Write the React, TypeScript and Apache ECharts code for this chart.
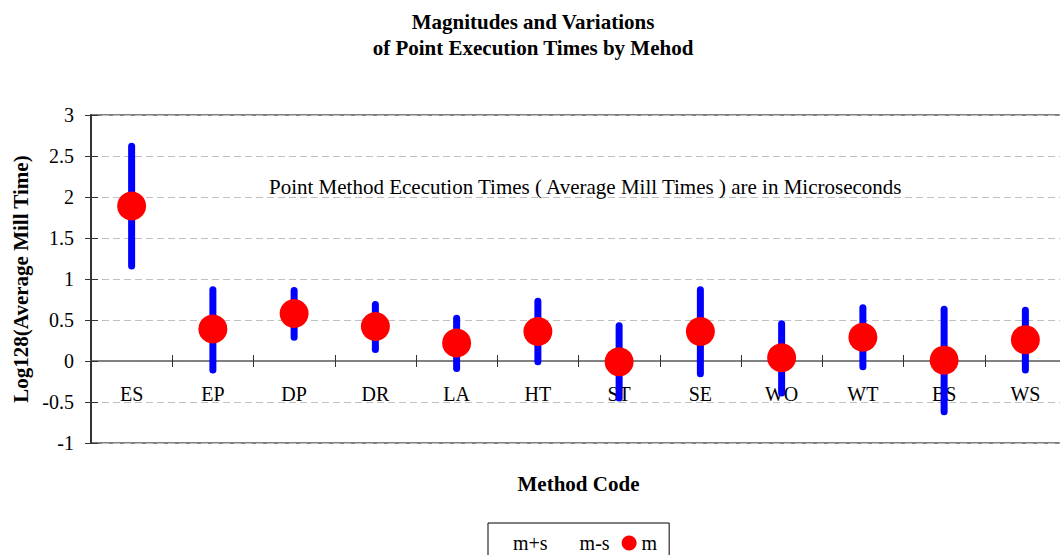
import { useEffect, useRef } from 'react';
import * as echarts from 'echarts';

// Method codes along the category axis
const categories = ['ES', 'EP', 'DP', 'DR', 'LA', 'HT', 'ST', 'SE', 'WO', 'WT', 'BS', 'WS'];

// log128 of average mill time (m) and one standard deviation either side
const meanValues = [1.89, 0.39, 0.58, 0.42, 0.22, 0.36, -0.01, 0.36, 0.04, 0.29, 0.01, 0.26];
const plusSigma = [2.62, 0.87, 0.86, 0.69, 0.52, 0.73, 0.43, 0.87, 0.455, 0.65, 0.63, 0.62];
const minusSigma = [1.16, -0.11, 0.29, 0.14, -0.09, -0.01, -0.45, -0.155, -0.39, -0.07, -0.62, -0.11];

// value axis range and step
const yMin = -1;
const yMax = 3;
const yStep = 0.5;

const SERIF = '"Liberation Serif", "Times New Roman", serif';

export default function App() {
  const ref = useRef<HTMLDivElement>(null);

  useEffect(() => {
    if (!ref.current) return;
    const chart = echarts.init(ref.current, undefined, { renderer: 'svg' });

    const gridLeft = 91;
    const gridWidth = 975;

    const option: any = {
      animation: false,
      backgroundColor: '#ffffff',
      title: {
        text: 'Magnitudes and Variations\nof Point Execution Times by Mehod',
        left: 528,
        top: 4,
        textAlign: 'center',
        textStyle: {
          fontFamily: SERIF,
          fontWeight: 'bold',
          fontSize: 21,
          lineHeight: 26,
          color: '#000',
        },
      },
      legend: {
        left: 488,
        top: 523,
        padding: [10, 12, 10, 5],
        itemGap: 12,
        itemWidth: 15,
        itemHeight: 15,
        borderColor: '#000',
        borderWidth: 1,
        selectedMode: false,
        textStyle: { fontFamily: SERIF, fontSize: 20, color: '#000' },
        data: [
          { name: 'm+s', icon: 'rect', itemStyle: { color: 'rgba(0,0,0,0)', opacity: 0 } },
          { name: 'm-s', icon: 'rect', itemStyle: { color: 'rgba(0,0,0,0)', opacity: 0 } },
          { name: 'm', icon: 'circle', itemStyle: { color: '#ff0000' } },
        ],
      },
      grid: {
        left: gridLeft,
        top: 115,
        width: gridWidth,
        height: 328,
        outerBoundsMode: 'none',
        containLabel: false,
        show: true,
        borderColor: '#808080',
        borderWidth: 2,
        backgroundColor: 'transparent',
      },
      graphic: [
        {
          type: 'text',
          x: 269,
          y: 187,
          style: {
            text: 'Point Method Ececution Times ( Average Mill Times ) are in Microseconds',
            font: `21px ${SERIF}`,
            fill: '#000',
            textVerticalAlign: 'middle',
          },
          z: 10,
        },
      ],
      xAxis: [
        {
          type: 'category',
          data: categories,
          position: 'bottom',
          boundaryGap: true,
          name: 'Method Code',
          nameLocation: 'middle',
          nameGap: 30,
          nameTextStyle: { fontFamily: SERIF, fontWeight: 'bold', fontSize: 21, color: '#000' },
          axisLine: { onZero: true, lineStyle: { color: '#7a7a7a', width: 1.5 } },
          axisTick: { show: true, inside: false, length: 6, lineStyle: { color: '#333', width: 1 } },
          // labels sit just under the zero line rather than at the plot's bottom edge
          axisLabel: { fontFamily: SERIF, fontSize: 20, color: '#000', margin: -59 },
          splitLine: { show: false },
        },
        {
          // mirrored ticks so the category ticks cross the zero line
          type: 'category',
          data: categories,
          position: 'top',
          boundaryGap: true,
          axisLine: { onZero: true, lineStyle: { color: '#7a7a7a', width: 1.5 } },
          axisTick: { show: true, inside: false, length: 6, lineStyle: { color: '#333', width: 1 } },
          axisLabel: { show: false },
          splitLine: { show: false },
        },
      ],
      yAxis: [
        {
          type: 'value',
          min: yMin,
          max: yMax,
          interval: yStep,
          position: 'left',
          name: 'Log128(Average Mill Time)',
          nameLocation: 'middle',
          nameGap: 59,
          nameTextStyle: { fontFamily: SERIF, fontWeight: 'bold', fontSize: 21, color: '#000' },
          axisLine: { show: true, lineStyle: { color: '#333', width: 2 } },
          axisTick: { show: true, inside: false, length: 6, lineStyle: { color: '#333', width: 1 } },
          axisLabel: { fontFamily: SERIF, fontSize: 20, color: '#000', margin: 17 },
          splitLine: { show: true, lineStyle: { color: '#c0c0c0', width: 1, type: [7, 4] } },
        },
        {
          // inward half of the value-axis ticks, placed on the left edge
          type: 'value',
          min: yMin,
          max: yMax,
          interval: yStep,
          position: 'right',
          offset: -gridWidth,
          axisLine: { show: false },
          axisTick: { show: true, inside: false, length: 7, lineStyle: { color: '#333', width: 1 } },
          axisLabel: { show: false },
          splitLine: { show: false },
        },
      ],
      series: [
        {
          name: 'm+s',
          type: 'line',
          data: plusSigma,
          symbol: 'none',
          silent: true,
          itemStyle: { color: 'rgba(0,0,0,0)' },
          lineStyle: { color: 'rgba(0,0,0,0)', width: 0 },
        },
        {
          name: 'm-s',
          type: 'line',
          data: minusSigma,
          symbol: 'none',
          silent: true,
          itemStyle: { color: 'rgba(0,0,0,0)' },
          lineStyle: { color: 'rgba(0,0,0,0)', width: 0 },
        },
        {
          name: 'range',
          type: 'custom',
          data: categories.map((_, i) => [i, minusSigma[i], plusSigma[i]]),
          encode: { x: 0, y: [1, 2] },
          z: 3,
          renderItem: (_params: any, api: any) => {
            const idx = api.value(0);
            const lo = api.coord([idx, api.value(1)]);
            const hi = api.coord([idx, api.value(2)]);
            return {
              type: 'line',
              shape: { x1: lo[0], y1: lo[1], x2: hi[0], y2: hi[1] },
              style: { stroke: '#0000ff', lineWidth: 7, lineCap: 'round' },
            };
          },
        },
        {
          name: 'm',
          type: 'scatter',
          data: meanValues,
          symbol: 'circle',
          symbolSize: 29,
          z: 4,
          itemStyle: { color: '#ff0000', opacity: 1 },
        },
      ],
    };

    chart.setOption(option);
    return () => chart.dispose();
  }, []);

  return (
    <div
      ref={ref}
      style={{ position: 'absolute', left: 0, top: 0, width: 1060, height: 555 }}
    />
  );
}
